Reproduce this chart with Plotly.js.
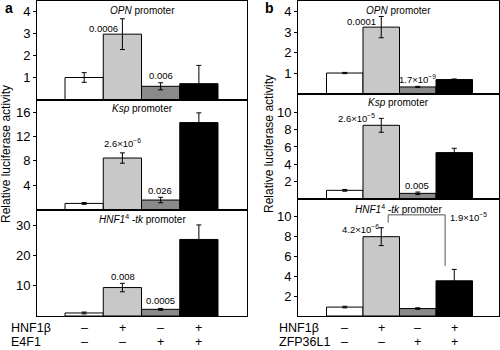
<!DOCTYPE html>
<html>
<head>
<meta charset="utf-8">
<script src="https://cdn.plot.ly/plotly-3.0.1.min.js"></script>
<style>html,body{margin:0;padding:0;background:#fff;}#chart{width:500px;height:350px;}</style>
</head>
<body>
<div id="chart"></div>
<script>
// ---- data ----
var positions = [0, 1, 2, 3];
var barColors = ['#ffffff', '#c8c8c8', '#8a8a8a', '#000000'];

var promoters = ['<i>OPN</i> promoter', '<i>Ksp</i> promoter', '<i>HNF1</i><sup>4</sup> <i>-tk</i> promoter'];

var aOPN = [1.0, 2.97, 0.6, 0.72];
var aOPNerr = [0.22, 0.7, 0.16, 0.83];
var aKsp = [1.0, 8.47, 1.56, 14.3];
var aKsperr = [0.15, 0.85, 0.45, 1.6];
var aHNF = [1.0, 9.4, 2.2, 25.3];
var aHNFerr = [0.3, 1.4, 0.3, 4.8];

var bOPN = [1.0, 3.24, 0.32, 0.68];
var bOPNerr = [0.03, 0.52, 0.03, 0.03];
var bKsp = [1.0, 8.5, 0.65, 5.35];
var bKsperr = [0.1, 0.8, 0.15, 0.5];
var bHNF = [0.9, 8.0, 0.75, 3.55];
var bHNFerr = [0.08, 0.9, 0.08, 1.15];

var aPvals = [['0.0006', '0.006'], ['2.6×10<sup>−6</sup>', '0.026'], ['0.008', '0.0005']];
var bPvals = [['0.0001', '1.7×10<sup>−9</sup>'], ['2.6×10<sup>−5</sup>', '0.005'], ['4.2×10<sup>−6</sup>', '1.9×10<sup>−5</sup>']];

var rowLabels = ['HNF1β'];
var aFactor = 'E4F1';
var bFactor = 'ZFP36L1';
var row1Signs = ['–', '+', '–', '+'];
var row2Signs = ['–', '–', '+', '+'];

var yTitle = 'Relative luciferase activity';

// ---- layout helpers (pixel -> paper) ----
var W = 500, H = 350;
function px(x) { return x / W; }
function py(y) { return 1 - y / H; }

var panels = [
  // panel a
  {x0: 37, x1: 247, xr: [-1.233, 4.258],
   rows: [
     {y0: 0.5, y1: 99.5, yr: [0, 4.5], tv: [1, 2, 3, 4], v: aOPN, e: aOPNerr},
     {y0: 99.5, y1: 209.5, yr: [0, 18.1], tv: [4, 8, 12, 16], v: aKsp, e: aKsperr},
     {y0: 209.5, y1: 316, yr: [0, 35.2], tv: [10, 20, 30], v: aHNF, e: aHNFerr}
   ]},
  // panel b
  {x0: 298, x1: 499, xr: [-1.281, 4.226],
   rows: [
     {y0: 0.5, y1: 93.5, yr: [0, 4.54], tv: [1, 2, 3, 4], v: bOPN, e: bOPNerr},
     {y0: 93.5, y1: 199, yr: [0, 12.17], tv: [2, 4, 6, 8, 10], v: bKsp, e: bKsperr},
     {y0: 199, y1: 316, yr: [0, 11.8], tv: [2, 4, 6, 8, 10], v: bHNF, e: bHNFerr}
   ]}
];

var FONT = 'Liberation Sans, Arial, Helvetica, sans-serif';
var traces = [];
var layout = {
  width: W, height: H,
  margin: {l: 0, r: 0, t: 0, b: 0, pad: 0},
  paper_bgcolor: '#ffffff', plot_bgcolor: '#ffffff',
  showlegend: false,
  font: {family: FONT, color: '#000', size: 12},
  annotations: [], shapes: []
};

var k = 0;
panels.forEach(function (p, pi) {
  p.rows.forEach(function (r, ri) {
    k++;
    var xs = k === 1 ? '' : String(k);
    var plusErr = r.e;
    var minusErr = r.v.map(function (v, i) { return Math.min(r.e[i], v); });
    traces.push({
      type: 'bar', x: positions, y: r.v, width: 1,
      xaxis: 'x' + xs, yaxis: 'y' + xs,
      marker: {color: barColors, line: {color: '#000', width: 1}},
      error_y: {type: 'data', symmetric: false, array: plusErr, arrayminus: minusErr,
                color: '#000', thickness: 1, width: 2.5},
      hoverinfo: 'none'
    });
    layout['xaxis' + xs] = {
      domain: [px(p.x0), px(p.x1)], range: p.xr, anchor: 'y' + xs,
      showline: true, mirror: true, linecolor: '#000', linewidth: 1,
      showticklabels: false, ticks: '', showgrid: false, zeroline: false, fixedrange: true
    };
    layout['yaxis' + xs] = {
      domain: [py(r.y1), py(r.y0)], range: r.yr, anchor: 'x' + xs,
      tickvals: r.tv, ticks: 'outside', ticklen: 3, tickcolor: '#000',
      showline: true, mirror: true, linecolor: '#000', linewidth: 1,
      showgrid: false, zeroline: false, fixedrange: true,
      tickfont: {size: 13, family: FONT, color: '#000'}
    };
    // promoter subtitle
    layout.annotations.push({
      text: promoters[ri], xref: 'x' + xs + ' domain', x: 0.5, yref: 'paper',
      y: py(r.y0 + 9.5), xanchor: 'center', yanchor: 'middle', showarrow: false,
      font: {size: 10, family: FONT}
    });
  });
});

// p-value annotations (data coordinates)
function addText(axis, x, y, txt, anchor) {
  layout.annotations.push({
    text: txt, xref: 'x' + axis, yref: 'y' + axis, x: x, y: y,
    xanchor: anchor || 'center', yanchor: 'middle', showarrow: false,
    font: {size: 9.5, family: FONT}
  });
}
addText('', 0.51, 3.25, aPvals[0][0]);
addText('', 2.01, 1.07, aPvals[0][1]);
addText('2', 0.99, 10.9, aPvals[1][0]);
addText('2', 1.98, 3.2, aPvals[1][1]);
addText('3', 1.02, 13.2, aPvals[2][0]);
addText('3', 2.0, 5.1, aPvals[2][1]);
addText('4', 0.47, 3.5, bPvals[0][0]);
addText('4', 1.98, 0.72, bPvals[0][1]);
addText('5', 0.33, 9.3, bPvals[1][0]);
addText('5', 1.98, 1.6, bPvals[1][1]);
addText('6', 0.42, 8.8, bPvals[2][0]);
addText('6', 2.83, 10.0, bPvals[2][1], 'left');

// bracket in panel b HNF1
var brX = [1.19, 2.75], brTop = 10.2, brL = 9.42, brR = 5.05;
[[brX[0], brL, brX[0], brTop], [brX[0], brTop, brX[1], brTop], [brX[1], brTop, brX[1], brR]].forEach(function (s) {
  layout.shapes.push({type: 'line', xref: 'x6', yref: 'y6', x0: s[0], y0: s[1], x1: s[2], y1: s[3],
                      line: {color: '#555', width: 1}});
});

// y titles
layout.annotations.push({text: yTitle, xref: 'paper', yref: 'paper', x: px(6), y: py(154),
  textangle: -90, showarrow: false, xanchor: 'center', yanchor: 'middle', font: {size: 12, family: FONT}});
layout.annotations.push({text: yTitle, xref: 'paper', yref: 'paper', x: px(269), y: py(144),
  textangle: -90, showarrow: false, xanchor: 'center', yanchor: 'middle', font: {size: 12, family: FONT}});

// panel letters
layout.annotations.push({text: '<b>a</b>', xref: 'paper', yref: 'paper', x: px(3), y: py(8),
  xanchor: 'left', yanchor: 'middle', showarrow: false, font: {size: 14, family: FONT}});
layout.annotations.push({text: '<b>b</b>', xref: 'paper', yref: 'paper', x: px(263), y: py(8),
  xanchor: 'left', yanchor: 'middle', showarrow: false, font: {size: 14, family: FONT}});

// condition rows
function addRow(axis, labelX, y, label, signs) {
  layout.annotations.push({text: label, xref: 'paper', yref: 'paper', x: px(labelX), y: py(y),
    xanchor: 'left', yanchor: 'middle', showarrow: false, font: {size: 12.5, family: FONT}});
  signs.forEach(function (s, i) {
    layout.annotations.push({text: s, xref: 'x' + axis, yref: 'paper', x: positions[i], y: py(y),
      xanchor: 'center', yanchor: 'middle', showarrow: false, font: {size: 12.5, family: FONT}});
  });
}
addRow('3', 9, 327.5, rowLabels[0], row1Signs);
addRow('3', 9, 342, aFactor, row2Signs);
addRow('6', 277, 327.5, rowLabels[0], row1Signs);
addRow('6', 277, 342, bFactor, row2Signs);

Plotly.newPlot('chart', traces, layout, {staticPlot: true, displayModeBar: false});
</script>
</body>
</html>
